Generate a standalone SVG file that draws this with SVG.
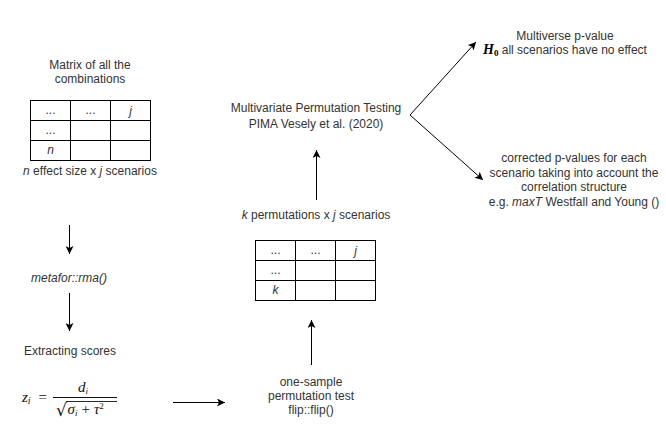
<svg xmlns="http://www.w3.org/2000/svg" width="666" height="432" viewBox="0 0 666 432">
<defs>
<style>
.t{font-family:"Liberation Sans",Arial,sans-serif;font-size:12px;fill:#333;text-anchor:middle}
.i{font-style:italic}
.m{font-family:"Liberation Serif","Times New Roman",serif;font-style:italic;fill:#111}
.grid{fill:none;stroke:#000;stroke-width:1}
.c{fill:none;stroke:#000;stroke-width:1}
</style>
<marker id="ar" viewBox="0 0 10 10" refX="10" refY="5" markerWidth="8" markerHeight="8" markerUnits="userSpaceOnUse" orient="auto">
<path d="M0,0 L10,5 L0,10 L2.5,5 z" fill="#000"/>
</marker>
</defs>
<rect width="666" height="432" fill="#fff"/>

<g id="matrix-title">
<text class="t" x="90" y="68.5">Matrix of all the</text>
<text class="t" x="90" y="82.5">combinations</text>
</g>

<g id="matrix-table">
<rect class="grid" x="30.5" y="100.5" width="120" height="60"/>
<path class="grid" d="M70.5,100.5V160.5M110.5,100.5V160.5M30.5,120.5H150.5M30.5,140.5H150.5"/>
<text class="t" x="50.5" y="114">...</text>
<text class="t" x="90.5" y="114">...</text>
<text class="t i" x="130.5" y="115">j</text>
<text class="t" x="50.5" y="134">...</text>
<text class="t i" x="50.5" y="154">n</text>
</g>

<g id="matrix-caption">
<text class="t" x="90" y="175"><tspan class="i">n</tspan> effect size x <tspan class="i">j</tspan> scenarios</text>
</g>

<g id="rma">
<text class="t i" x="69" y="282">metafor::rma()</text>
</g>

<g id="extract">
<text class="t" x="70" y="355">Extracting scores</text>
</g>

<g id="formula">
<text class="m" x="22" y="402" font-size="15">z<tspan font-size="10" dy="2">i</tspan></text>
<text x="38.5" y="402" font-family="Liberation Serif, serif" font-size="15" fill="#111">=</text>
<line x1="53" y1="397.5" x2="117" y2="397.5" stroke="#111" stroke-width="1"/>
<text class="m" x="78" y="391.5" font-size="15">d<tspan font-size="9" dy="2">i</tspan></text>
<text x="56" y="415.5" font-family="DejaVu Serif, serif" font-size="17" fill="#111">√</text>
<line x1="66" y1="401.5" x2="117" y2="401.5" stroke="#111" stroke-width="0.9"/>
<text class="m" x="67.5" y="413.5" font-size="15">σ<tspan font-size="9" dy="2">i</tspan><tspan font-style="normal" dy="-2" dx="4">+</tspan><tspan dx="4">τ</tspan><tspan font-style="normal" font-size="9" dy="-5">2</tspan></text>
</g>

<g id="flip">
<text class="t" x="311" y="385.5">one-sample</text>
<text class="t" x="311" y="399.5">permutation test</text>
<text class="t" x="311" y="413.5">flip::flip()</text>
</g>

<g id="perm-table">
<rect class="grid" x="255.5" y="240.5" width="120" height="60"/>
<path class="grid" d="M295.5,240.5V300.5M335.5,240.5V300.5M255.5,260.5H375.5M255.5,280.5H375.5"/>
<text class="t" x="275.5" y="254">...</text>
<text class="t" x="315.5" y="254">...</text>
<text class="t i" x="355.5" y="255">j</text>
<text class="t" x="275.5" y="274">...</text>
<text class="t i" x="275.5" y="294">k</text>
</g>

<g id="perm-caption">
<text class="t" x="316" y="219"><tspan class="i">k</tspan> permutations x <tspan class="i">j</tspan> scenarios</text>
</g>

<g id="pima">
<text class="t" x="316" y="111.5">Multivariate Permutation Testing</text>
<text class="t" x="316" y="128">PIMA Vesely et al. (2020)</text>
</g>

<g id="multiverse">
<text class="t" x="565" y="40">Multiverse p-value</text>
<text class="t" x="565" y="53.5"><tspan font-family="Liberation Serif, serif" font-style="italic" font-size="14" font-weight="bold" fill="#000">H</tspan><tspan font-family="Liberation Serif, serif" font-size="9" font-weight="bold" fill="#000" dy="2">0</tspan><tspan dy="-2"> all scenarios have no effect</tspan></text>
</g>

<g id="corrected">
<text class="t" x="574" y="162">corrected p-values for each</text>
<text class="t" x="574" y="176.5">scenario taking into account the</text>
<text class="t" x="574" y="191">correlation structure</text>
<text class="t" x="574" y="205.5">e.g. <tspan class="i">maxT</tspan> Westfall and Young ()</text>
</g>

<g id="connectors">
<line class="c" x1="69.5" y1="225" x2="69.5" y2="254" marker-end="url(#ar)"/>
<line class="c" x1="69.5" y1="293" x2="69.5" y2="331" marker-end="url(#ar)"/>
<line class="c" x1="173" y1="402.5" x2="225" y2="402.5" marker-end="url(#ar)"/>
<line class="c" x1="311.5" y1="365" x2="311.5" y2="320" marker-end="url(#ar)"/>
<line class="c" x1="316.5" y1="200" x2="316.5" y2="150" marker-end="url(#ar)"/>
<line class="c" x1="410" y1="115" x2="476" y2="42" marker-end="url(#ar)"/>
<line class="c" x1="410" y1="115" x2="483" y2="180" marker-end="url(#ar)"/>
</g>
</svg>
